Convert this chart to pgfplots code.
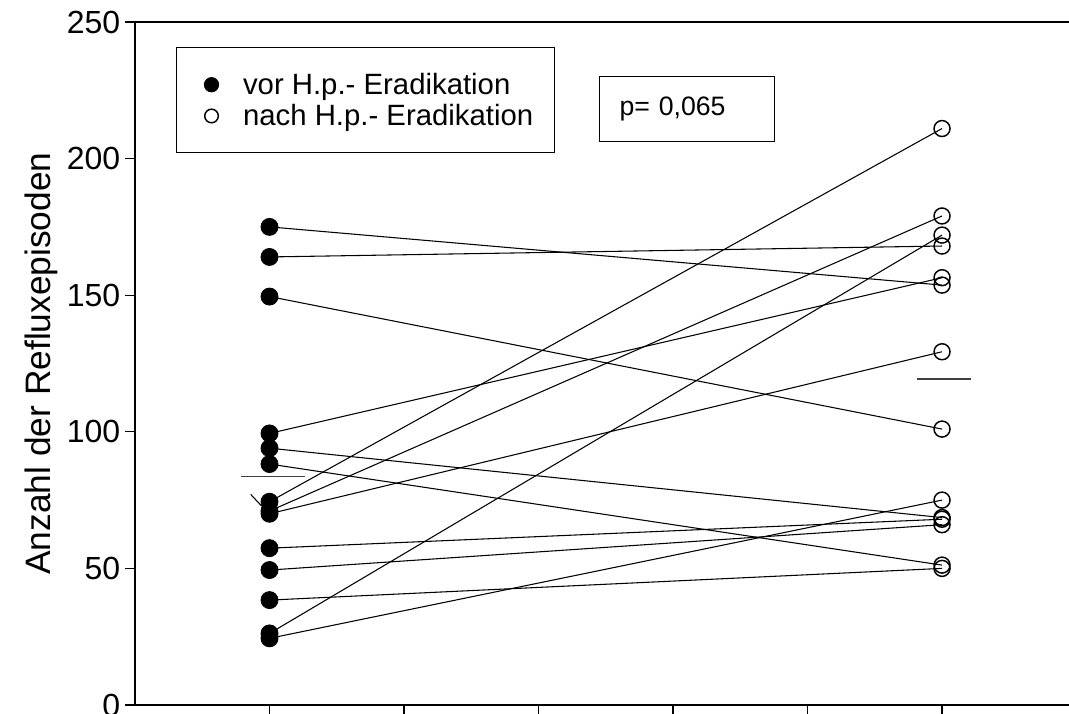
\documentclass[border=0pt]{standalone}
\usepackage{fontspec}
\setmainfont{Liberation Sans}
\usepackage{pgfplots}
\pgfplotsset{compat=1.18}
\pgfplotsset{mylegimg/.style={legend image code/.code={%
  \path[draw=none] (0pt,0pt) -- (17.5pt,0pt);
  \draw[##1, only marks, mark size=#1]
    plot coordinates {(12.5pt,0pt)};}}}
\begin{document}
\begin{tikzpicture}
\path[use as bounding box] (0,0) rectangle (801.75pt,534.75pt);
\begin{axis}[
  at={(101.25pt,6pt)}, anchor=south west,
  scale only axis, width=700.5pt, height=512.25pt,
  xmin=0, xmax=6.944, ymin=0, ymax=250,
  axis x line=box, axis y line=left,
  axis line style={-, line width=1.4pt},
  every outer y axis line/.append style={-},
  every outer x axis line/.append style={-},
  xtick={1,2,3,4,5,6}, xticklabels={}, xtick pos=left,
  ytick={0,50,100,150,200,250},
  tick align=outside, major tick length=7.5pt,
  tick style={line width=1pt, black},
  yticklabel style={font=\fontsize{24}{26}\selectfont},
  /pgf/number format/assume math mode=true,
  ylabel={Anzahl der Refluxepisoden},
  ylabel style={font=\fontsize{26.5}{30}\selectfont},
  clip=false,
  legend style={at={(0.0439,0.963)}, anchor=north west, draw=black, line width=0.75pt, fill=white,
    inner xsep=13.75pt, inner ysep=17pt, font=\fontsize{22}{26}\selectfont, row sep=2pt,
    /tikz/every odd column/.append style={column sep=16.25pt}},
  legend cell align=left,
]
% paired lines (vor -> nach)
\addplot[forget plot, black, line width=0.8pt] coordinates {(1,175) (6,153.7)};
\addplot[forget plot, black, line width=0.8pt] coordinates {(1,164) (6,168)};
\addplot[forget plot, black, line width=0.8pt] coordinates {(1,149.5) (6,101)};
\addplot[forget plot, black, line width=0.8pt] coordinates {(1,99.4) (6,156.4)};
\addplot[forget plot, black, line width=0.8pt] coordinates {(1,94) (6,68.6)};
\addplot[forget plot, black, line width=0.8pt] coordinates {(1,88.2) (6,51.2)};
\addplot[forget plot, black, line width=0.8pt] coordinates {(1,74.4) (6,211)};
\addplot[forget plot, black, line width=0.8pt] coordinates {(1,71) (6,179)};
\addplot[forget plot, black, line width=0.8pt] coordinates {(1,70) (6,129.3)};
\addplot[forget plot, black, line width=0.8pt] coordinates {(1,57.4) (6,68)};
\addplot[forget plot, black, line width=0.8pt] coordinates {(1,49.4) (6,66)};
\addplot[forget plot, black, line width=0.8pt] coordinates {(1,38.4) (6,50)};
\addplot[forget plot, black, line width=0.8pt] coordinates {(1,26.2) (6,172)};
\addplot[forget plot, black, line width=0.8pt] coordinates {(1,24.4) (6,75)};
% mean lines
\addplot[forget plot, black!75, line width=1pt] coordinates {(0.785,83.6) (1.264,83.6)};
\addplot[forget plot, black!75, line width=1pt] coordinates {(5.815,119.3) (6.215,119.3)};
\addplot[forget plot, black, line width=0.8pt] coordinates {(0.860,77.1) (0.942,72.8)};
% markers
\addplot[only marks, mark=*, mark size=6.4pt, mark options={fill=black, draw=black, line width=0.6pt},
  mylegimg=5.4pt]
  coordinates {(1,175) (1,164) (1,149.5) (1,99.4) (1,94) (1,88.2) (1,74.4) (1,71) (1,70) (1,57.4) (1,49.4) (1,38.4) (1,26.2) (1,24.4)};
\addlegendentry{vor H.p.- Eradikation}
\addplot[only marks, mark=o, mark size=6pt, mark options={draw=black, line width=1.1pt},
  mylegimg=5.1pt]
  coordinates {(6,153.7) (6,168) (6,101) (6,156.4) (6,68.6) (6,51.2) (6,211) (6,179) (6,129.3) (6,68) (6,66) (6,50) (6,172) (6,75)};
\addlegendentry{nach H.p.- Eradikation}
\node[draw=black, line width=0.75pt, anchor=west, minimum height=48.75pt, text width=101.25pt,
  inner xsep=15pt, align=left, font=\fontsize{20}{24}\selectfont] at (axis cs:3.450,218.3) {p= 0,065};
\end{axis}
\end{tikzpicture}
\end{document}
